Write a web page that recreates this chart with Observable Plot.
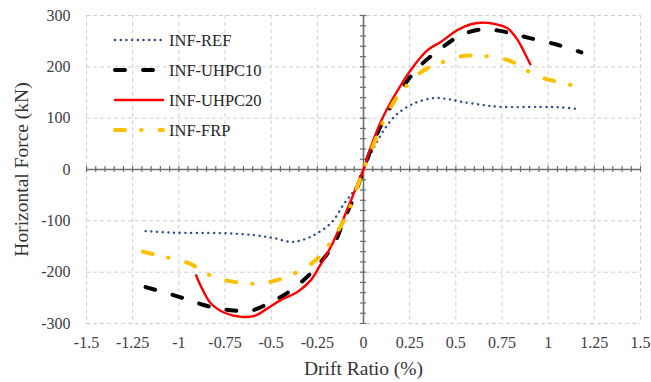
<!DOCTYPE html>
<html><head><meta charset="utf-8">
<script src="https://cdn.jsdelivr.net/npm/d3@7"></script>
<script src="https://cdn.jsdelivr.net/npm/@observablehq/plot@0.6"></script>
<style>
body{margin:0;background:#fff}
#chart{position:relative;width:651px;height:382px;background:#fff}
#chart svg, #chart text{font-family:"Liberation Serif","DejaVu Serif",serif !important}
#legend{position:absolute;left:0;top:0;pointer-events:none}
</style>
</head><body><div id="chart"></div>
<script>
// ---- data ----
const seriesNames = ["INF-REF", "INF-UHPC10", "INF-UHPC20", "INF-FRP"];

const refX = [-1.18, -1.04, -0.77, -0.59, -0.48, -0.39, -0.32, -0.25, -0.17, -0.104, -0.05, 0, 0.058, 0.122, 0.185, 0.275, 0.38, 0.46, 0.53, 0.64, 0.74, 0.96, 1.07, 1.16];
const refY = [-120, -123, -124, -128, -134, -141, -136, -124, -102, -66, -40, 0, 44, 83, 109, 129, 139, 137, 132, 126, 122, 122, 121, 118];

const uhpc10X = [-1.18, -0.99, -0.845, -0.72, -0.61, -0.5, -0.39, -0.27, -0.16, -0.107, -0.052, 0, 0.05, 0.1, 0.18, 0.29, 0.42, 0.53, 0.64, 0.74, 0.81, 0.9, 1.05, 1.18];
const uhpc10Y = [-229, -249, -266, -274, -275, -258, -235, -196, -145, -99, -54, 0, 48, 90, 142, 196, 236, 262, 273, 270, 264, 256, 243, 228];

const uhpc20X = [-0.907, -0.87, -0.826, -0.753, -0.663, -0.59, -0.518, -0.447, -0.356, -0.284, -0.234, -0.176, -0.104, -0.031, 0, 0.04, 0.095, 0.149, 0.2, 0.254, 0.345, 0.42, 0.51, 0.582, 0.636, 0.69, 0.78, 0.835, 0.87, 0.903];
const uhpc20Y = [-206, -235, -261, -279, -287, -285, -270, -254, -238, -215, -186, -150, -92, -27, 0, 44, 94, 132, 163, 193, 232, 249, 272, 283, 286, 285, 275, 252, 229, 205];

const frpX = [-1.195, -1.114, -1.04, -0.943, -0.898, -0.808, -0.717, -0.627, -0.564, -0.464, -0.329, -0.239, -0.16, -0.088, -0.04, 0, 0.05, 0.1, 0.18, 0.305, 0.381, 0.42, 0.537, 0.654, 0.79, 0.88, 0.925, 1.015, 1.14, 1.178];
const frpY = [-160, -167, -173, -183, -192, -210, -218, -222, -222, -215, -194, -170, -132, -86, -40, 0, 45, 88, 140, 188, 203, 208, 221, 221, 212, 194, 184, 174, 163, 160];

const xTicks = [-1.5, -1.25, -1, -0.75, -0.5, -0.25, 0, 0.25, 0.5, 0.75, 1, 1.25, 1.5];
const yTicks = [-300, -200, -100, 0, 100, 200, 300];
const xMinorTicks = d3.range(-30, 31).map(i => +(i * 0.05).toFixed(2));
const yMinorTicks = d3.range(-15, 16).map(i => i * 20);

const xLabel = "Drift Ratio (%)";
const yLabel = "Horizontal Force (kN)";

// ---- styles ----
const styles = [
  {stroke: "#2f4b8c", strokeWidth: 2.4, strokeDasharray: "0.1,5.6", strokeLinecap: "round"},
  {stroke: "#000000", strokeWidth: 4, strokeDasharray: "10,18", strokeLinecap: "round"},
  {stroke: "#ff0000", strokeWidth: 2.4, strokeDasharray: null, strokeLinecap: "round"},
  {stroke: "#ffc000", strokeWidth: 4, strokeDasharray: "10,16,0.5,18", strokeLinecap: "round"}
];
const xs = [refX, uhpc10X, uhpc20X, frpX];
const ys = [refY, uhpc10Y, uhpc20Y, frpY];
const series = seriesNames.map((name, k) => ({name, rows: xs[k].map((x, i) => ({x, y: ys[k][i]})), ...styles[k]}));

const font = "'Liberation Serif', 'DejaVu Serif', serif";
const fmt = d => String(d);

const plot = Plot.plot({
  width: 651,
  height: 382,
  marginLeft: 86,
  marginRight: 11,
  marginTop: 15,
  marginBottom: 59,
  style: {fontFamily: font, fontSize: "16px", background: "#fff", color: "#404040"},
  x: {domain: [-1.5, 1.5]},
  y: {domain: [-300, 300]},
  marks: [
    Plot.gridX(xTicks, {stroke: "#cfcfcf", strokeOpacity: 1, strokeDasharray: "4,3"}),
    Plot.gridY(yTicks, {stroke: "#cfcfcf", strokeOpacity: 1, strokeDasharray: "4,3"}),
    Plot.ruleY([0], {stroke: "#6e6e6e", strokeWidth: 1.6}),
    Plot.ruleX([0], {stroke: "#6e6e6e", strokeWidth: 1.6}),
    Plot.ruleX(xMinorTicks, {x: d => d, y1: 0, y2: 0, insetTop: -3, insetBottom: -3, stroke: "#6e6e6e", strokeWidth: 1.2}),
    Plot.ruleY(yMinorTicks, {y: d => d, x1: 0, x2: 0, insetLeft: -3, insetRight: -3, stroke: "#6e6e6e", strokeWidth: 1.2}),
    Plot.axisX({ticks: xTicks, tickSize: 0, tickPadding: 13, tickFormat: fmt, label: null, fontSize: 16, fontFamily: font, fill: "#404040"}),
    Plot.axisY({ticks: yTicks, tickSize: 0, tickPadding: 16, tickFormat: fmt, label: null, fontSize: 16, fontFamily: font, fill: "#404040"}),
    ...series.map(s => Plot.line(s.rows, {
      x: "x", y: "y", curve: "catmull-rom",
      stroke: s.stroke, strokeWidth: s.strokeWidth,
      strokeDasharray: s.strokeDasharray, strokeLinecap: s.strokeLinecap, strokeLinejoin: "round"
    })),
    Plot.text([xLabel], {frameAnchor: "bottom", dy: 45, textAnchor: "middle", lineAnchor: "middle", fontSize: 19.5, fontFamily: font, fill: "#333", text: d => d}),
    Plot.text([yLabel], {frameAnchor: "left", dx: -65, rotate: -90, textAnchor: "middle", lineAnchor: "middle", fontSize: 19.5, fontFamily: font, fill: "#333", text: d => d})
  ]
});
document.getElementById("chart").appendChild(plot);

// ---- legend overlay ----
const lg = d3.select("#chart").append("svg").attr("id", "legend").attr("width", 651).attr("height", 382);
series.forEach((s, i) => {
  const yy = 40 + i * 30;
  lg.append("line").attr("x1", 115).attr("x2", 163).attr("y1", yy).attr("y2", yy)
    .attr("stroke", s.stroke).attr("stroke-width", s.strokeWidth)
    .attr("stroke-dasharray", s.strokeDasharray).attr("stroke-linecap", s.strokeLinecap);
  lg.append("text").attr("x", 169).attr("y", yy + 5.5)
    .style("font-family", font).attr("font-size", 16.5).attr("fill", "#262626").text(s.name);
});
</script>
</body></html>
